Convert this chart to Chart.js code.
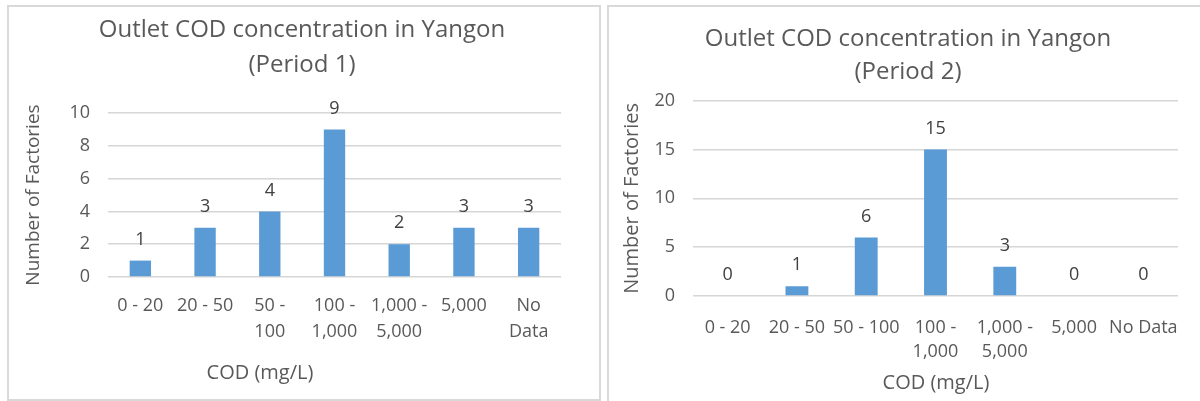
<!DOCTYPE html>
<html><head><meta charset="utf-8">
<script src="https://cdn.jsdelivr.net/npm/chart.js@4.4.1/dist/chart.umd.min.js"></script>
<style>
html,body{margin:0;padding:0;background:#fff;width:1200px;height:401px;overflow:hidden;}
.box{position:absolute;border:2px solid #d9d9d9;box-sizing:border-box;}
.cv{position:absolute;top:0;width:600px;height:401px;}
</style></head><body>
<div class="box" style="left:7px;top:5px;width:594px;height:396px"></div>
<div class="box" style="left:607px;top:5px;width:600px;height:400px"></div>
<div class="cv" style="left:0"><canvas id="c1" width="600" height="401"></canvas></div>
<div class="cv" style="left:600px"><canvas id="c2" width="600" height="401"></canvas></div>
<script>
const categories1 = ['0 - 20','20 - 50',['50 -','100'],['100 -','1,000'],['1,000 -','5,000'],'5,000',['No','Data']];
const values1 = [1,3,4,9,2,3,3];
const categories2 = ['0 - 20','20 - 50','50 - 100',['100 -','1,000'],['1,000 -','5,000'],'5,000','No Data'];
const values2 = [0,1,6,15,3,0,0];
const yTicks1 = [0,2,4,6,8,10];
const yTicks2 = [0,5,10,15,20];
const titleLines1 = ['Outlet COD concentration in Yangon','(Period 1)'];
const titleLines2 = ['Outlet COD concentration in Yangon','(Period 2)'];
const yTitle = 'Number of Factories';
const xTitle = 'COD (mg/L)';

const FONT = '"Open Sans", "DejaVu Sans", sans-serif';
const GREY = '#595959';

const valueLabels = {
  id:'valueLabels',
  afterDatasetsDraw(chart){
    const {ctx} = chart;
    const meta = chart.getDatasetMeta(0);
    const data = chart.data.datasets[0].data;
    ctx.save();
    ctx.font = '18px ' + FONT;
    ctx.fillStyle = '#404040';
    ctx.textAlign = 'center';
    ctx.textBaseline = 'middle';
    meta.data.forEach((bar,i)=>{ ctx.fillText(String(data[i]), bar.x, bar.y - 21); });
    ctx.restore();
  }
};
const axisTitle = {
  id:'axisTitle',
  afterDraw(chart, args, opts){
    const {ctx, chartArea} = chart;
    ctx.save();
    ctx.font = '20px ' + FONT;
    ctx.fillStyle = GREY;
    ctx.textAlign = 'center';
    ctx.textBaseline = 'middle';
    ctx.fillText(opts.text, chartArea.left + opts.dx, chartArea.bottom + opts.dy);
    ctx.restore();
  }
};

function makeChart(id, cats, vals, ticks, titleLines, cfg){
  return new Chart(document.getElementById(id), {
    type:'bar',
    data:{labels:cats, datasets:[{data:vals, yAxisID:'y', backgroundColor:'#5b9bd5', barPercentage:0.33, categoryPercentage:1}]},
    plugins:[valueLabels, axisTitle],
    options:{
      responsive:false, animation:false, devicePixelRatio:1,
      layout:{padding:{left:cfg.pL, right:0, top:0, bottom:0}},
      plugins:{
        legend:{display:false}, tooltip:{enabled:false},
        title:{display:true, text:titleLines, color:GREY,
          font:{family:FONT, size:24, weight:'normal', lineHeight:cfg.tLH},
          padding:{top:cfg.tPadTop, bottom:cfg.tPadBottom}},
        axisTitle:{text:xTitle, dx:cfg.xtDx, dy:cfg.xtDy}
      },
      scales:{
        x:{
          grid:{display:false}, border:{display:false},
          ticks:{font:{family:FONT, size:18, lineHeight:cfg.xLH}, color:GREY, padding:cfg.xPad, autoSkip:false, maxRotation:0, minRotation:0},
          afterFit: s => { s.height = cfg.xH; }
        },
        y:{
          min:0, max:ticks[ticks.length-1],
          grid:{color:'#d6d6d6', drawTicks:false, lineWidth:1.5},
          border:{display:false},
          ticks:{padding:18, font:{family:FONT, size:18}, color:GREY},
          afterBuildTicks: s => { s.ticks = ticks.map(v => ({value:v})); },
          title:{display:true, text:yTitle, color:GREY, font:{family:FONT, size:cfg.yTSize, lineHeight:1.2}, padding:{top:cfg.yTPad, bottom:0}},
          afterFit: s => { s.width = cfg.yW; }
        },
        yR:{
          position:'right', display:true,
          grid:{display:false}, border:{display:false}, ticks:{display:false},
          afterFit: s => { s.width = cfg.rW; }
        }
      }
    }
  });
}

makeChart('c1', categories1, values1, yTicks1, titleLines1, {
  pL:4, tLH:35/24, tPadTop:12.5, tPadBottom:30.5,
  xLH:26/18, xPad:8, xH:124, yW:104, yTPad:18, yTSize:19, rW:39, xtDx:152, xtDy:96
});
makeChart('c2', categories2, values2, yTicks2, titleLines2, {
  pL:16, tLH:33.5/24, tPadTop:22.25, tPadBottom:11.45,
  xLH:24/18, xPad:12, xH:105, yW:77, yTPad:4, yTSize:20, rW:22, xtDx:243, xtDy:87
});
</script>
</body></html>
